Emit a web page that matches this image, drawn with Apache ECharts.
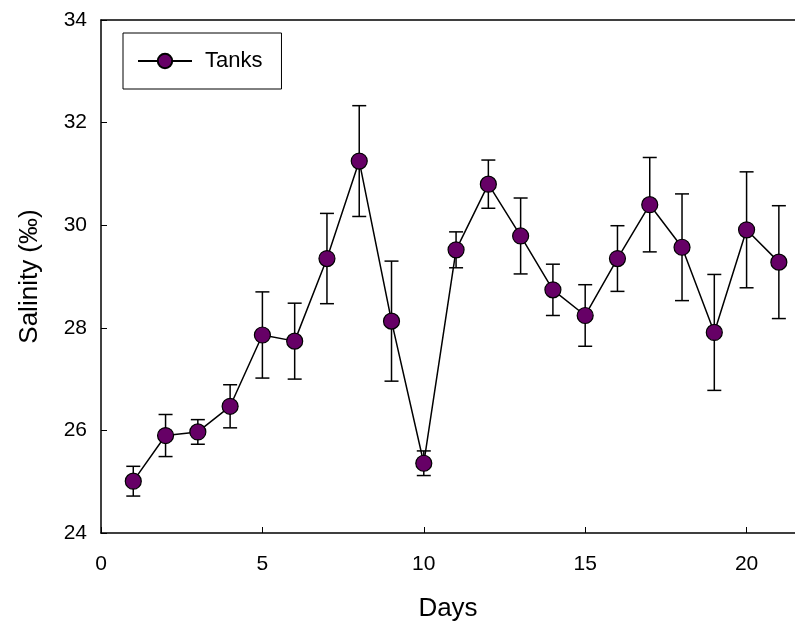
<!DOCTYPE html>
<html>
<head>
<meta charset="utf-8">
<script src="https://cdn.jsdelivr.net/npm/echarts@6/dist/echarts.min.js"></script>
<style>
  html, body { margin: 0; padding: 0; background: #fff; }
  #chart { width: 795px; height: 624px; }
</style>
</head>
<body>
<div id="chart"></div>
<script>
// days and salinity readings (mean ± error) for the tanks
const days = [1, 2, 3, 4, 5, 6, 7, 8, 9, 10, 11, 12, 13, 14, 15, 16, 17, 18, 19, 20, 21];
const salinity = [25.01, 25.9, 25.97, 26.47, 27.86, 27.74, 29.35, 31.25, 28.13, 25.36, 29.52,
                  30.8, 29.79, 28.74, 28.24, 29.35, 30.4, 29.57, 27.91, 29.91, 29.28];
const errors = [0.29, 0.41, 0.24, 0.42, 0.84, 0.74, 0.88, 1.08, 1.17, 0.24, 0.35,
                0.47, 0.74, 0.5, 0.6, 0.64, 0.92, 1.04, 1.13, 1.13, 1.1];
const xTicks = [0, 5, 10, 15, 20];

const font = 'Liberation Sans, Arial, sans-serif';
const chart = echarts.init(document.getElementById('chart'));

const lineData = days.map((d, i) => [d, salinity[i]]);
const errData = days.map((d, i) => [d, salinity[i] - errors[i], salinity[i] + errors[i]]);

const option = {
  animation: false,
  grid: { left: 101, right: 0, top: 20, bottom: 91, outerBoundsMode: 'none', containLabel: false },
  legend: {
    left: 123, top: 33,
    padding: [17, 19, 17, 14],
    borderColor: '#000', borderWidth: 1, borderRadius: 0,
    itemWidth: 54, itemHeight: 18, itemGap: 10,
    textStyle: { fontFamily: font, fontSize: 22, color: '#000', padding: [0, 0, 0, 8] },
    data: ['Tanks']
  },
  xAxis: [{
    type: 'value', min: 0, max: 21.5,
    interval: 5,
    axisLine: { lineStyle: { color: '#000', width: 1.5 } },
    axisTick: { inside: true, length: 6, lineStyle: { color: '#000', width: 1 } },
    axisLabel: {
      fontFamily: font, fontSize: 21, color: '#000', margin: 21,
      customValues: xTicks, formatter: v => xTicks.includes(v) ? String(v) : ''
    },
    splitLine: { show: false },
    name: 'Days', nameLocation: 'middle', nameGap: 63,
    nameTextStyle: { fontFamily: font, fontSize: 26, color: '#000' }
  }, {
    type: 'value', min: 0, max: 21.5, position: 'top',
    axisLine: { show: true, lineStyle: { color: '#000', width: 1.5 } },
    axisTick: { show: false }, axisLabel: { show: false }, splitLine: { show: false }
  }],
  yAxis: {
    type: 'value', min: 24, max: 34, interval: 2,
    axisLine: { show: true, lineStyle: { color: '#000', width: 1.5 } },
    axisTick: { inside: true, length: 6, lineStyle: { color: '#000', width: 1 } },
    axisLabel: { fontFamily: font, fontSize: 21, color: '#000', margin: 14 },
    splitLine: { show: false },
    name: 'Salinity (‰)', nameLocation: 'middle', nameGap: 58,
    nameTextStyle: { fontFamily: font, fontSize: 26, color: '#000' }
  },
  series: [
    {
      type: 'custom',
      name: 'err',
      data: errData,
      z: 1,
      renderItem: function (params, api) {
        const x = api.value(0);
        const lo = api.coord([x, api.value(1)]);
        const hi = api.coord([x, api.value(2)]);
        const half = 7;
        const style = { stroke: '#000', lineWidth: 1.5 };
        return {
          type: 'group',
          children: [
            { type: 'line', shape: { x1: lo[0], y1: lo[1], x2: hi[0], y2: hi[1] }, style },
            { type: 'line', shape: { x1: lo[0] - half, y1: lo[1], x2: lo[0] + half, y2: lo[1] }, style },
            { type: 'line', shape: { x1: hi[0] - half, y1: hi[1], x2: hi[0] + half, y2: hi[1] }, style }
          ]
        };
      }
    },
    {
      type: 'line',
      name: 'Tanks',
      data: lineData,
      z: 3,
      symbol: 'circle',
      symbolSize: 16,
      showAllSymbol: true,
      lineStyle: { color: '#000', width: 1.5 },
      itemStyle: { color: '#660066', borderColor: '#000', borderWidth: 1.2 }
    }
  ]
};

chart.setOption(option);
</script>
</body>
</html>
